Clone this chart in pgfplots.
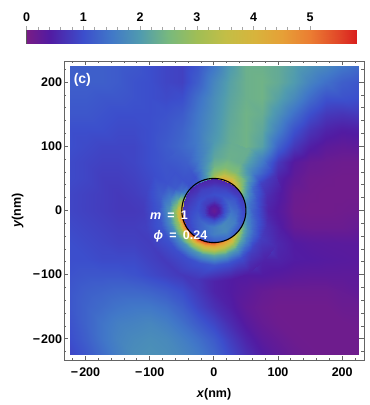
\documentclass[border=0pt]{standalone}
\usepackage{fontspec}
\setmainfont{Liberation Sans}
\usepackage{pgfplots}
\pgfplotsset{compat=1.18}
\definecolor{fr}{RGB}{100,100,100}
\pgfplotsset{
 colormap={rb}{rgb255(0pt)=(120,28,134); rgb255(40pt)=(82,27,162); rgb255(100pt)=(60,78,204); rgb255(150pt)=(65,120,200); rgb255(200pt)=(80,155,175); rgb255(250pt)=(120,185,125); rgb255(300pt)=(160,190,85); rgb255(350pt)=(195,190,70); rgb255(400pt)=(215,180,60); rgb255(450pt)=(230,160,55); rgb255(500pt)=(235,125,50); rgb255(550pt)=(225,70,40); rgb255(582pt)=(217,30,30)},
}
\newcommand\lab{\bfseries\fontsize{12.5}{12.5}\selectfont}
\newcommand\mn{−\kern1pt}
\begin{document}
\begin{tikzpicture}
\path[use as bounding box] (-64pt,-45pt) rectangle (306pt,360pt);
\begin{axis}[at={(0pt,0pt)},anchor=south west,scale only axis,width=300pt,height=299pt,
 xmin=-233.6,xmax=234,ymin=-233,ymax=233,
 colormap name=rb,point meta min=0,point meta max=5.82,
 axis line style={fr,line width=0.9pt},
 tick style={fr,line width=0.9pt},
 tick align=inside,major tick length=4.5pt,minor tick length=2.5pt,
 xtick={-200,-100,0,100,200},ytick={-200,-100,0,100,200},
 minor xtick={-220,-180,-160,-140,-120,-80,-60,-40,-20,20,40,60,80,120,140,160,180,220},
 minor ytick={-220,-180,-160,-140,-120,-80,-60,-40,-20,20,40,60,80,120,140,160,180,220},
 xticklabels={\mn200,\mn100,0,100,200},yticklabels={\mn200,\mn100,0,100,200},
 tick label style={font=\lab},
 xticklabel style={yshift=-4pt},yticklabel style={xshift=1.5pt},
 xlabel={\textit{x}(nm)},ylabel={\textit{y}(nm)},
 label style={font=\lab},
 xlabel style={yshift=-5pt},ylabel style={yshift=2.5pt},
]
\addplot[surf,shader=interp,mesh/cols=19,point meta=explicit] table[meta=v,row sep=\\]{
x y v\\
-225 -225 .9\\-200 -225 1.1\\-175 -225 1.35\\-150 -225 1.6\\-125 -225 1.8\\-100 -225 1.85\\-75 -225 1.8\\-50 -225 1.7\\-25 -225 1.55\\0 -225 1.3\\25 -225 .95\\50 -225 .65\\75 -225 .42\\100 -225 .28\\125 -225 .18\\150 -225 .12\\175 -225 .1\\200 -225 .1\\225 -225 .1\\
-225 -200 1\\-200 -200 1.2\\-175 -200 1.45\\-150 -200 1.65\\-125 -200 1.75\\-100 -200 1.8\\-75 -200 1.75\\-50 -200 1.6\\-25 -200 1.4\\0 -200 1.15\\25 -200 .8\\50 -200 .5\\75 -200 .3\\100 -200 .2\\125 -200 .12\\150 -200 .1\\175 -200 .1\\200 -200 .1\\225 -200 .1\\
-225 -175 1.05\\-200 -175 1.25\\-175 -175 1.45\\-150 -175 1.6\\-125 -175 1.65\\-100 -175 1.7\\-75 -175 1.6\\-50 -175 1.4\\-25 -175 1.15\\0 -175 .9\\25 -175 .6\\50 -175 .35\\75 -175 .2\\100 -175 .12\\125 -175 .1\\150 -175 .1\\175 -175 .1\\200 -175 .1\\225 -175 .12\\
-225 -150 1.1\\-200 -150 1.25\\-175 -150 1.35\\-150 -150 1.45\\-125 -150 1.5\\-100 -150 1.5\\-75 -150 1.4\\-50 -150 1.2\\-25 -150 .9\\0 -150 .65\\25 -150 .45\\50 -150 .25\\75 -150 .15\\100 -150 .1\\125 -150 .1\\150 -150 .1\\175 -150 .1\\200 -150 .15\\225 -150 .15\\
-225 -125 1.1\\-200 -125 1.2\\-175 -125 1.25\\-150 -125 1.3\\-125 -125 1.3\\-100 -125 1.25\\-75 -125 1.15\\-50 -125 1\\-25 -125 .75\\0 -125 .5\\25 -125 .4\\50 -125 .3\\75 -125 .2\\100 -125 .15\\125 -125 .15\\150 -125 .15\\175 -125 .15\\200 -125 .2\\225 -125 .25\\
-225 -100 1.05\\-200 -100 1.1\\-175 -100 1.1\\-150 -100 1.1\\-125 -100 1.05\\-100 -100 .95\\-75 -100 .85\\-50 -100 .75\\-25 -100 .7\\0 -100 .5\\25 -100 .42\\50 -100 .4\\75 -100 .4\\100 -100 .35\\125 -100 .3\\150 -100 .28\\175 -100 .28\\200 -100 .28\\225 -100 .28\\
-225 -75 1\\-200 -75 1\\-175 -75 .95\\-150 -75 .95\\-125 -75 .95\\-100 -75 .85\\-75 -75 .75\\-50 -75 .85\\-25 -75 1.4\\0 -75 1.8\\25 -75 1.15\\50 -75 .8\\75 -75 .5\\100 -75 .5\\125 -75 .42\\150 -75 .4\\175 -75 .37\\200 -75 .35\\225 -75 .33\\
-225 -50 1\\-200 -50 .95\\-175 -50 .9\\-150 -50 .85\\-125 -50 .85\\-100 -50 .8\\-75 -50 .85\\-50 -50 1.8\\-25 -50 2.5\\0 -50 3\\25 -50 2.5\\50 -50 2\\75 -50 .9\\100 -50 .55\\125 -50 .4\\150 -50 .35\\175 -50 .33\\200 -50 .32\\225 -50 .32\\
-225 -25 .95\\-200 -25 .9\\-175 -25 .85\\-150 -25 .8\\-125 -25 .8\\-100 -25 .85\\-75 -25 1.05\\-50 -25 1.6\\-25 -25 2\\0 -25 2\\25 -25 2\\50 -25 1.6\\75 -25 1\\100 -25 .45\\125 -25 .2\\150 -25 .15\\175 -25 .15\\200 -25 .15\\225 -25 .2\\
-225 0 .9\\-200 0 .85\\-175 0 .8\\-150 0 .75\\-125 0 .75\\-100 0 .8\\-75 0 1.2\\-50 0 2\\-25 0 3\\0 0 3\\25 0 3\\50 0 1.5\\75 0 1\\100 0 .4\\125 0 .12\\150 0 .08\\175 0 .08\\200 0 .1\\225 0 .12\\
-225 25 .9\\-200 25 .85\\-175 25 .8\\-150 25 .75\\-125 25 .8\\-100 25 .9\\-75 25 1.1\\-50 25 2\\-25 25 3\\0 25 3\\25 25 3\\50 25 2\\75 25 1.1\\100 25 .45\\125 25 .15\\150 25 .1\\175 25 .08\\200 25 .08\\225 25 .08\\
-225 50 .95\\-200 50 .9\\-175 50 .8\\-150 50 .8\\-125 50 .85\\-100 50 .95\\-75 50 1.05\\-50 50 1.1\\-25 50 1.1\\0 50 2.6\\25 50 3\\50 50 2.6\\75 50 1.2\\100 50 .5\\125 50 .25\\150 50 .12\\175 50 .1\\200 50 .08\\225 50 .08\\
-225 75 .95\\-200 75 .9\\-175 75 .85\\-150 75 .85\\-125 75 .9\\-100 75 1\\-75 75 1.1\\-50 75 1.15\\-25 75 1.25\\0 75 2.2\\25 75 2.4\\50 75 2.3\\75 75 1.5\\100 75 .75\\125 75 .35\\150 75 .2\\175 75 .15\\200 75 .12\\225 75 .12\\
-225 100 1\\-200 100 .95\\-175 100 .9\\-150 100 .9\\-125 100 .9\\-100 100 1\\-75 100 1.15\\-50 100 1.3\\-25 100 1.55\\0 100 2\\25 100 2.3\\50 100 2.4\\75 100 2.1\\100 100 1.25\\125 100 .75\\150 100 .45\\175 100 .3\\200 100 .25\\225 100 .28\\
-225 125 1\\-200 125 1\\-175 125 1\\-150 125 .95\\-125 125 .95\\-100 125 1\\-75 125 1.1\\-50 125 1.25\\-25 125 1.55\\0 125 1.9\\25 125 2.25\\50 125 2.4\\75 125 2.2\\100 125 1.6\\125 125 1.05\\150 125 .7\\175 125 .5\\200 125 .42\\225 125 .45\\
-225 150 1.1\\-200 150 1.1\\-175 150 1.05\\-150 150 1\\-125 150 1\\-100 150 1\\-75 150 1.05\\-50 150 1.15\\-25 150 1.5\\0 150 1.85\\25 150 2.2\\50 150 2.4\\75 150 2.3\\100 150 1.85\\125 150 1.4\\150 150 1\\175 150 .75\\200 150 .7\\225 150 .75\\
-225 175 1.15\\-200 175 1.15\\-175 175 1.1\\-150 175 1.1\\-125 175 1.05\\-100 175 1\\-75 175 .95\\-50 175 1\\-25 175 1.4\\0 175 1.8\\25 175 2.15\\50 175 2.35\\75 175 2.4\\100 175 2.1\\125 175 1.75\\150 175 1.35\\175 175 1.05\\200 175 1.05\\225 175 1\\
-225 200 1.2\\-200 200 1.2\\-175 200 1.2\\-150 200 1.15\\-125 200 1.05\\-100 200 1\\-75 200 .9\\-50 200 .85\\-25 200 1.2\\0 200 1.7\\25 200 2.1\\50 200 2.35\\75 200 2.4\\100 200 2.25\\125 200 2\\150 200 1.65\\175 200 1.4\\200 200 1.2\\225 200 1.1\\
-225 225 1.2\\-200 225 1.2\\-175 225 1.2\\-150 225 1.15\\-125 225 1.1\\-100 225 1\\-75 225 .9\\-50 225 .85\\-25 225 1.1\\0 225 1.5\\25 225 2\\50 225 2.35\\75 225 2.35\\100 225 2.25\\125 225 2.05\\150 225 1.85\\175 225 1.7\\200 225 1.5\\225 225 1.35\\
};
% disk
\addplot[surf,shader=interp,mesh/cols=8,point meta=explicit] table[x expr=\thisrow{r}*cos(\thisrow{t}),y expr=\thisrow{r}*sin(\thisrow{t}),meta=v,row sep=\\]{
t r v\\
0 0 .2\\0 8 .45\\0 16 1\\0 26 1.45\\0 36 1.3\\0 45 .95\\0 50 .9\\0 53 .9\\
30 0 .2\\30 8 .4\\30 16 .95\\30 26 1.25\\30 36 1.1\\30 45 .8\\30 50 .75\\30 53 .75\\
60 0 .2\\60 8 .4\\60 16 .85\\60 26 1.05\\60 36 .9\\60 45 .65\\60 50 .55\\60 53 .55\\
90 0 .2\\90 8 .4\\90 16 .8\\90 26 1\\90 36 .85\\90 45 .6\\90 50 .5\\90 53 .5\\
120 0 .2\\120 8 .4\\120 16 .8\\120 26 .95\\120 36 .85\\120 45 .6\\120 50 .5\\120 53 .5\\
150 0 .2\\150 8 .4\\150 16 .8\\150 26 1\\150 36 .85\\150 45 .7\\150 50 .6\\150 53 .6\\
180 0 .2\\180 8 .4\\180 16 .85\\180 26 1.05\\180 36 .95\\180 45 .8\\180 50 .75\\180 53 .75\\
210 0 .2\\210 8 .4\\210 16 .9\\210 26 1.2\\210 36 1.1\\210 45 .9\\210 50 .85\\210 53 .85\\
240 0 .2\\240 8 .45\\240 16 1\\240 26 1.4\\240 36 1.3\\240 45 1.1\\240 50 1\\240 53 1\\
270 0 .2\\270 8 .45\\270 16 1.05\\270 26 1.6\\270 36 1.6\\270 45 1.3\\270 50 1.2\\270 53 1.2\\
300 0 .2\\300 8 .45\\300 16 1.1\\300 26 1.75\\300 36 1.75\\300 45 1.45\\300 50 1.3\\300 53 1.3\\
330 0 .2\\330 8 .45\\330 16 1.05\\330 26 1.65\\330 36 1.6\\330 45 1.2\\330 50 1.1\\330 53 1.1\\
360 0 .2\\360 8 .45\\360 16 1\\360 26 1.45\\360 36 1.3\\360 45 .95\\360 50 .9\\360 53 .9\\
};
% annulus around the disk: angle, radius, value
\addplot[surf,shader=interp,mesh/cols=6,point meta=explicit] table[x expr=\thisrow{r}*cos(\thisrow{t}),y expr=\thisrow{r}*sin(\thisrow{t}),meta=v,row sep=\\]{
t r v\\
0 50 1.7\\0 54 1.5\\0 60 1.25\\0 70 .95\\0 85 .5\\0 110 .29\\
15 50 1.8\\15 54 1.6\\15 60 1.4\\15 70 1.05\\15 85 .6\\15 110 .38\\
30 50 2.4\\30 54 2.2\\30 60 1.85\\30 70 1.3\\30 85 .85\\30 110 .68\\
45 50 3.6\\45 54 3.2\\45 60 2.7\\45 70 2.15\\45 85 1.65\\45 110 1.48\\
60 50 4.6\\60 54 4\\60 60 3.3\\60 70 2.6\\60 85 2.3\\60 110 2.3\\
75 50 4.4\\75 54 3.9\\75 60 3.2\\75 70 2.6\\75 85 2.35\\75 110 2.3\\
90 50 3.2\\90 54 3\\90 60 2.7\\90 70 2.4\\90 85 2.15\\90 110 1.96\\
105 50 1.9\\105 54 1.85\\105 60 1.8\\105 70 1.7\\105 85 1.6\\105 110 1.51\\
120 50 1.2\\120 54 1.15\\120 60 1.05\\120 70 1.1\\120 85 1.2\\120 110 1.245\\
135 50 1.05\\135 54 1.05\\135 60 1.05\\135 70 1.05\\135 85 1.05\\135 110 1.09\\
150 50 1.7\\150 54 1.6\\150 60 1.4\\150 70 1.15\\150 85 1.05\\150 110 .98\\
165 50 3.5\\165 54 3\\165 60 2.3\\165 70 1.6\\165 85 1.2\\165 110 .88\\
180 50 4.6\\180 54 3.9\\180 60 2.8\\180 70 1.9\\180 85 1.1\\180 110 .78\\
195 50 5.2\\195 54 4.3\\195 60 2.9\\195 70 1.8\\195 85 1.1\\195 110 .835\\
210 50 5.5\\210 54 4.5\\210 60 3\\210 70 1.8\\210 85 1.05\\210 110 .81\\
225 50 5.7\\225 54 4.7\\225 60 3.1\\225 70 1.8\\225 85 1\\225 110 .77\\
240 50 5.8\\240 54 4.8\\240 60 3.3\\240 70 1.9\\240 85 1\\240 110 .78\\
255 50 5.7\\255 54 4.8\\255 60 3.5\\255 70 2\\255 85 1.05\\255 110 .73\\
270 50 5.3\\270 54 4.7\\270 60 3.6\\270 70 2.2\\270 85 1.1\\270 110 .5\\
285 50 4.9\\285 54 4.3\\285 60 3.3\\285 70 2.1\\285 85 1.05\\285 110 .41\\
300 50 4.4\\300 54 3.9\\300 60 3\\300 70 2\\300 85 1\\300 110 .465\\
315 50 3.2\\315 54 2.9\\315 60 2.2\\315 70 1.55\\315 85 .85\\315 110 .49\\
330 50 2.4\\330 54 2.2\\330 60 1.8\\330 70 1.3\\330 85 .8\\330 110 .6\\
345 50 1.9\\345 54 1.7\\345 60 1.45\\345 70 1.1\\345 85 .65\\345 110 .41\\
360 50 1.7\\360 54 1.5\\360 60 1.25\\360 70 .95\\360 85 .5\\360 110 .29\\
};
\draw[black,line width=1.1pt] (axis cs:0,0) circle[radius=50];
\node[white,font=\bfseries\fontsize{14}{14}\selectfont] at (axis cs:-205,204) {(c)};
\node[white,font=\lab] at (axis cs:-70,-8) {\textit{m}\enspace=\enspace1};
\node[white,font=\lab] at (axis cs:-52,-40) {\textit{ϕ}\enspace=\enspace0.24};
\end{axis}
\begin{axis}[at={(-37.3pt,316.4pt)},anchor=south west,scale only axis,width=330pt,height=13.6pt,
 xmin=0,xmax=5.82,ymin=0,ymax=1,ytick=\empty,
 colormap name=rb,point meta min=0,point meta max=5.82,
 axis line style={fr!90!black,line width=0.6pt},
 xtick={0,1,2,3,4,5},xticklabels={0,1,2,3,4,5},minor x tick num=4,
 xtick pos=upper,xticklabel pos=upper,tick align=outside,
 tick style={black!35,line width=0.6pt},major tick length=4pt,minor tick length=3pt,
 tick label style={font=\lab},xticklabel style={yshift=1pt},
]
\addplot[surf,shader=interp,mesh/cols=7,point meta=x] table[row sep=\\]{
x y\\
0 0\\1 0\\2 0\\3 0\\4 0\\5 0\\5.82 0\\
0 1\\1 1\\2 1\\3 1\\4 1\\5 1\\5.82 1\\
};
\end{axis}
\end{tikzpicture}
\end{document}
